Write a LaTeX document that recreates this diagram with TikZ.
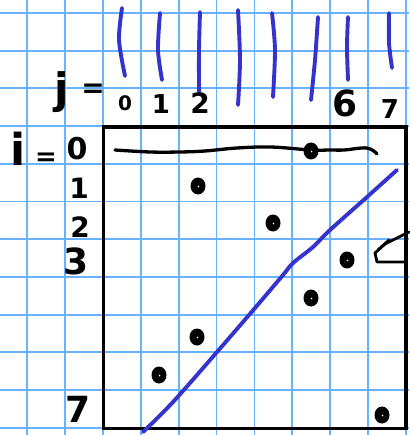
\documentclass[tikz,border=0pt]{standalone}
\usepackage{fontspec}
\setmainfont{DejaVu Sans}
\usetikzlibrary{shapes.geometric}
\definecolor{gridblue}{RGB}{105,178,255}
\definecolor{penblue}{RGB}{52,52,204}
\begin{document}
\begin{tikzpicture}[x=1pt,y=-1pt,
  gridline/.style={draw=gridblue,line width=1.8pt},
  bluestroke/.style={draw=penblue,line width=3.9pt,line cap=round,line join=round},
  blackstroke/.style={draw=black,line width=3.3pt,line cap=round,line join=round},
  lbl/.style={inner sep=0pt,anchor=center},
  dotnode/.style={ellipse,fill=black,minimum width=15pt,minimum height=17pt,inner sep=0pt},
]
\useasboundingbox (0,0) rectangle (409,435);
\fill[white] (0,0) rectangle (409,435);
% grid
\foreach \k in {0,...,10} {
  \draw[gridline] ({27+37.9*\k},0) -- ({27+37.9*\k},435);
}
\foreach \k in {0,...,11} {
  \draw[gridline] (0,{13+37.7*\k}) -- (409,{13+37.7*\k});
}
% box
\draw[draw=black,line width=3.2pt] (103.5,127) rectangle (406,428.5);
% blue strokes at top
\draw[bluestroke] plot[smooth] coordinates {(122,8) (119,40) (125,76)};
\draw[bluestroke] plot[smooth] coordinates {(160,13) (158,50) (162,80)};
\draw[bluestroke] plot[smooth] coordinates {(200,12) (199,50) (199,92)};
\draw[bluestroke] plot[smooth] coordinates {(238,10) (240,60) (238,105)};
\draw[bluestroke] plot[smooth] coordinates {(272,13) (275,50) (273,97)};
\draw[bluestroke] plot[smooth] coordinates {(318,17) (315,60) (311,100)};
\draw[bluestroke] plot[smooth] coordinates {(348,17) (347,47) (348,80)};
\draw[bluestroke] plot[smooth] coordinates {(389,13) (389,43) (392,68)};
% labels
\node[lbl,font=\bfseries\fontsize{42}{42}\selectfont] (jlab) at (62,92) {j};
\node[lbl,font=\bfseries\fontsize{28}{28}\selectfont] (jeq) at (93,91) {=};
\node[lbl,font=\bfseries\fontsize{20}{20}\selectfont] (c0) at (125,103.5) {0};
\node[lbl,font=\bfseries\fontsize{26}{26}\selectfont] (c1) at (161,104) {1};
\node[lbl,font=\bfseries\fontsize{28}{28}\selectfont] (c2) at (200,103) {2};
\node[lbl,font=\bfseries\fontsize{36}{36}\selectfont] (c6) at (345,103.5) {6};
\node[lbl,font=\bfseries\fontsize{26}{26}\selectfont] (c7) at (390,109) {7};
\node[lbl,font=\bfseries\fontsize{44}{44}\selectfont] (ilab) at (18,149) {i};
\node[lbl,font=\bfseries\fontsize{26}{26}\selectfont] (ieq) at (46,159) {=};
\node[lbl,font=\bfseries\fontsize{30}{30}\selectfont] (r0) at (77,149) {0};
\node[lbl,font=\bfseries\fontsize{28}{28}\selectfont] (r1) at (79,188) {1};
\node[lbl,font=\bfseries\fontsize{28}{28}\selectfont] (r2) at (80,227) {2};
\node[lbl,font=\bfseries\fontsize{36}{36}\selectfont] (r3) at (76,261) {3};
\node[lbl,font=\bfseries\fontsize{36}{36}\selectfont] (r7) at (78,409) {7};
% black horizontal line in row 0
\draw[blackstroke] plot[smooth,tension=0.6] coordinates {(115,150) (150,152) (180,152) (205,151) (237,148) (271,147) (311,150) (331,150) (344,150) (367,148) (377,154)};
% blue diagonal
\draw[bluestroke] plot[smooth,tension=0.5] coordinates {(143,432) (173,402) (217,352) (255,308) (283,275) (293,263) (313,247) (330,230) (367,197) (397,170)};
% dots
\foreach \n/\x/\y in {d0/311/151, d1/198/186, d2/273/223, d3/347/260, d4/311/298, d5/197/337, d6/159/375, d7/382/415} {
  \node[dotnode] (\n) at (\x,\y) {};
  \fill[white] (\x+0.5,\y+0.5) circle (0.9);
}
% arrow near row 3
\draw[blackstroke,line width=2.8pt] (409,232) -- (385,244) -- (375,253) -- (377,262) -- (404,262);
\draw[blackstroke,line width=2.8pt] (389,240) -- (378,250);
\end{tikzpicture}
\end{document}
